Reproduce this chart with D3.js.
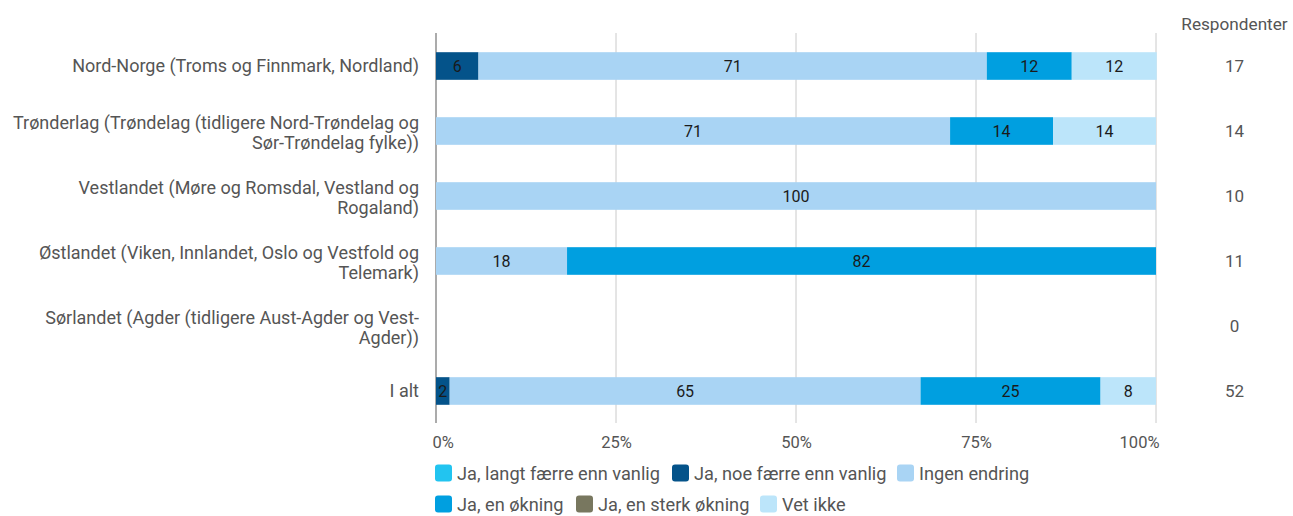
<!DOCTYPE html>
<html><head><meta charset="utf-8">
<script src="https://cdn.jsdelivr.net/npm/d3@7"></script>
<style>body{margin:0;background:#fff;} text{font-family:Roboto,"Noto Sans",sans-serif;}</style>
</head><body><svg id="c" width="1293" height="516"></svg>
<script>
const categories = [
  ["Nord-Norge (Troms og Finnmark, Nordland)"],
  ["Trønderlag (Trøndelag (tidligere Nord-Trøndelag og", "Sør-Trøndelag fylke))"],
  ["Vestlandet (Møre og Romsdal, Vestland og", "Rogaland)"],
  ["Østlandet (Viken, Innlandet, Oslo og Vestfold og", "Telemark)"],
  ["Sørlandet (Agder (tidligere Aust-Agder og Vest-", "Agder))"],
  ["I alt"]
];
const seriesNames = ["Ja, langt færre enn vanlig", "Ja, noe færre enn vanlig", "Ingen endring", "Ja, en økning", "Ja, en sterk økning", "Vet ikke"];
const seriesColors = ["#22c4f0", "#04538a", "#a9d4f4", "#009fe0", "#78775f", "#bce5fa"];
const langtFaerre = [0, 0, 0, 0, 0, 0];
const noeFaerre   = [5.9, 0, 0, 0, 0, 1.9];
const ingenEndring= [70.6, 71.4, 100, 18.2, 0, 65.4];
const okning      = [11.8, 14.3, 0, 81.8, 0, 25.0];
const sterkOkning = [0, 0, 0, 0, 0, 0];
const vetIkke     = [11.8, 14.3, 0, 0, 0, 7.7];
const respondenter = [17, 14, 10, 11, 0, 52];
const xTicks = [0, 25, 50, 75, 100];

const series = [langtFaerre, noeFaerre, ingenEndring, okning, sterkOkning, vetIkke];
const svg = d3.select("#c");
const x = d3.scaleLinear().domain([0, 100]).range([436, 1156]);
const y = d3.scaleBand().domain(d3.range(categories.length)).range([34, 423]).paddingInner(0.575).paddingOuter(0.28);

// grid
svg.append("g").selectAll("line").data(xTicks).join("line")
  .attr("x1", d => x(d)).attr("x2", d => x(d)).attr("y1", 33).attr("y2", 423)
  .attr("stroke", d => d === 0 ? "#8f8f8f" : "#cacaca").attr("stroke-width", d => d === 0 ? 1.5 : 1);

// x axis
const xAxis = svg.append("g").attr("transform", "translate(0,423)")
  .call(d3.axisBottom(x).tickValues(xTicks).tickFormat(d => d + "%").tickSize(0).tickPadding(13));
xAxis.select(".domain").remove();
xAxis.selectAll("text").attr("font-size", 16.5).attr("fill", "#555").style("font-family", "Roboto")
  .attr("text-anchor", (d, i) => i === 0 ? "start" : (i === xTicks.length - 1 ? "end" : "middle"))
  .attr("dx", (d, i) => i === 0 ? -4 : (i === xTicks.length - 1 ? 3 : 0));

// stack
const rows = categories.map((c, i) => {
  const o = {i};
  series.forEach((s, k) => o["s" + k] = s[i]);
  return o;
});
const stack = d3.stack().keys(series.map((s, k) => "s" + k))(rows);
const g = svg.append("g");
stack.forEach((layer, k) => {
  layer.forEach(d => {
    const v = d[1] - d[0];
    if (v <= 0) return;
    const i = d.data.i;
    g.append("rect").attr("x", x(d[0])).attr("width", x(d[1]) - x(d[0]))
      .attr("y", y(i)).attr("height", y.bandwidth()).attr("fill", seriesColors[k]);
    g.append("text").attr("x", (x(d[0]) + x(d[1])) / 2).attr("y", y(i) + y.bandwidth() / 2)
      .attr("dy", "0.36em").attr("text-anchor", "middle").attr("font-size", 16).attr("fill", "#1a1a1a")
      .text(d3.format(".0f")(v));
  });
});

// category labels
categories.forEach((lines, i) => {
  const cy = y(i) + y.bandwidth() / 2 + (lines.length > 1 ? 1.5 : 0);
  const lh = 19.5;
  const t = svg.append("text").attr("text-anchor", "end").attr("font-size", 18).attr("fill", "#555");
  lines.forEach((l, j) => {
    t.append("tspan").attr("x", 419).attr("y", cy + (j - (lines.length - 1) / 2) * lh).attr("dy", "0.36em").text(l);
  });
});

// respondenter
svg.append("text").attr("x", 1234.5).attr("y", 24).attr("dy", "0.36em").attr("text-anchor", "middle")
  .attr("font-size", 17.2).attr("fill", "#555").text("Respondenter");
respondenter.forEach((r, i) => {
  svg.append("text").attr("x", 1234.5).attr("y", y(i) + y.bandwidth() / 2).attr("dy", "0.36em")
    .attr("text-anchor", "middle").attr("font-size", 17).attr("fill", "#555").text(r);
});

// legend
const legendPos = [[435, 473], [672, 473], [897, 473], [435, 504], [576, 504], [760, 504]];
seriesNames.forEach((n, k) => {
  const [lx, ly] = legendPos[k];
  svg.append("rect").attr("x", lx).attr("y", ly - 8.5).attr("width", 17).attr("height", 17).attr("rx", 3)
    .attr("fill", seriesColors[k]);
  svg.append("text").attr("x", lx + 22).attr("y", ly).attr("dy", "0.36em").attr("font-size", 18.2)
    .attr("fill", "#555").text(n);
});
</script></body></html>
